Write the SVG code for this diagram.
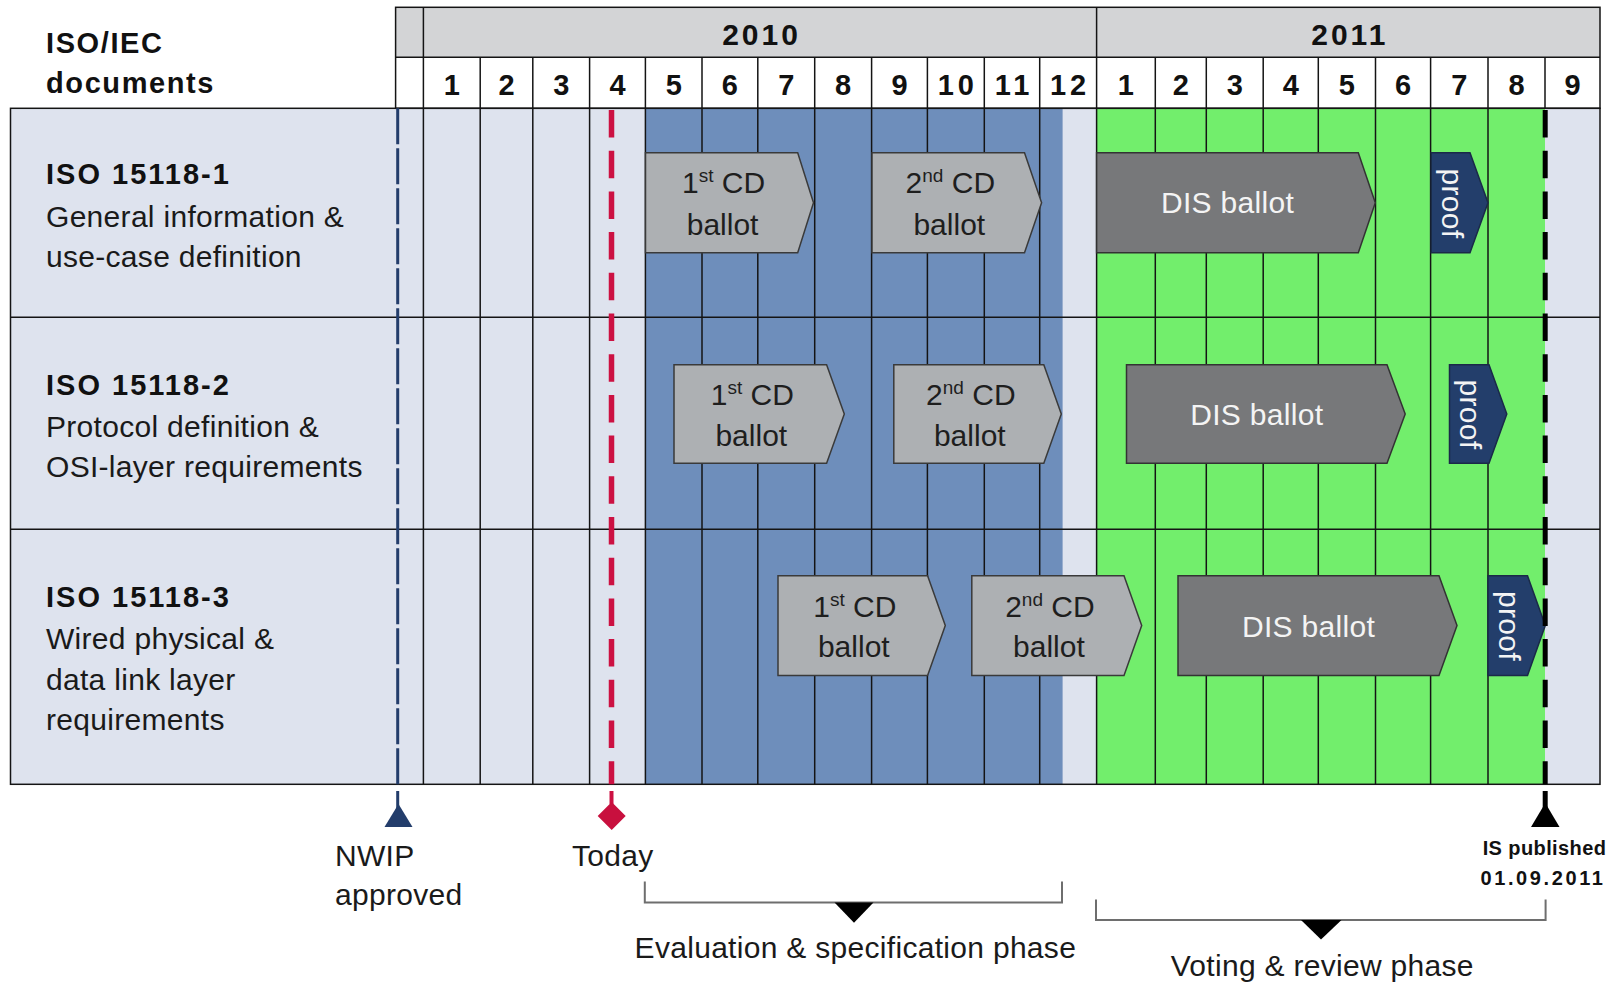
<svg xmlns="http://www.w3.org/2000/svg" width="1620" height="983" viewBox="0 0 1620 983">
<style>
.bg{fill:#dee3ee}
.blue{fill:#6e8ebb}
.green{fill:#72ee6c}
.hdr{fill:#d3d4d6}
.grid{stroke:#141414;stroke-width:1.5;fill:none}
.b{font-family:"Liberation Sans",Arial,sans-serif;font-weight:bold;fill:#111}
.r{font-family:"Liberation Sans",Arial,sans-serif;font-size:30px;fill:#1a1a1a;letter-spacing:0.3px}
.yr{font-size:30px;letter-spacing:3px;text-anchor:middle}
.mo{font-size:29px;letter-spacing:4px;text-anchor:middle}
.doc{font-size:29px;letter-spacing:1.6px}
.cd{fill:#adb0b3;stroke:#3a3a3a;stroke-width:1.5}
.dis{fill:#77787a;stroke:#333;stroke-width:1.5}
.proof{fill:#233e6b;stroke:#1a2a48;stroke-width:1.5}
.ct{font-family:"Liberation Sans",Arial,sans-serif;font-size:30px;fill:#1e1e1e;text-anchor:middle}
.wt{font-family:"Liberation Sans",Arial,sans-serif;font-size:30px;fill:#f4f4f4;text-anchor:middle;letter-spacing:0.3px}
.sup{font-size:19px}
.brk{stroke:#6e6e6e;stroke-width:2;fill:none}
</style>

<g id="table">
  <rect class="bg" x="10.5" y="108.3" width="1589.5" height="676"/>
  <rect class="blue" x="645.4" y="108.3" width="417.2" height="676"/>
  <rect class="green" x="1096.6" y="108.3" width="448.4" height="676"/>
  <rect class="hdr" x="395.6" y="7.3" width="1204.4" height="50"/>
  <rect fill="#ffffff" x="395.6" y="57.3" width="1204.4" height="51"/>
  <g class="grid">
    <rect x="395.6" y="7.3" width="1204.4" height="101"/>
    <line x1="395.6" y1="57.3" x2="1600" y2="57.3"/>
    <line x1="423.4" y1="7.3" x2="423.4" y2="108.3"/>
    <line x1="1096.6" y1="7.3" x2="1096.6" y2="57.3"/>
    <path d="M480.2 57.3V784.3M532.8 57.3V784.3M589.6 57.3V784.3M645.4 57.3V784.3M702 57.3V784.3M757.8 57.3V784.3M814.7 57.3V784.3M871.6 57.3V784.3M927.4 57.3V784.3M984.3 57.3V784.3M1039.7 57.3V784.3M1096.6 57.3V784.3M1155.3 57.3V784.3M1206.3 57.3V784.3M1263.2 57.3V784.3M1318.3 57.3V784.3M1375.5 57.3V784.3M1430.6 57.3V784.3M1488 57.3V784.3M1545 57.3V108.3M423.4 108.3V784.3"/>
    <rect x="10.5" y="108.3" width="1589.5" height="676"/>
    <line x1="10.5" y1="317.3" x2="1600" y2="317.3"/>
    <line x1="10.5" y1="529.3" x2="1600" y2="529.3"/>
  </g>
  <text class="b yr" x="761.5" y="45">2010</text>
  <text class="b yr" x="1349.8" y="45">2011</text>
  <g class="b mo">
    <text x="453.8" y="95">1</text>
    <text x="508.5" y="95">2</text>
    <text x="563.2" y="95">3</text>
    <text x="619.5" y="95">4</text>
    <text x="675.7" y="95">5</text>
    <text x="731.9" y="95">6</text>
    <text x="788.2" y="95">7</text>
    <text x="845.1" y="95">8</text>
    <text x="901.5" y="95">9</text>
    <text x="957.8" y="95">10</text>
    <text x="1014" y="95">11</text>
    <text x="1070.1" y="95">12</text>
    <text x="1127.9" y="95">1</text>
    <text x="1182.8" y="95">2</text>
    <text x="1236.7" y="95">3</text>
    <text x="1292.7" y="95">4</text>
    <text x="1348.9" y="95">5</text>
    <text x="1405" y="95">6</text>
    <text x="1461.3" y="95">7</text>
    <text x="1518.5" y="95">8</text>
    <text x="1574.5" y="95">9</text>
  </g>
  <text class="b doc" x="46" y="53">ISO/IEC</text>
  <text class="b doc" x="46" y="93">documents</text>
</g>

<g id="doc1">
  <text class="b doc" x="46" y="184" style="letter-spacing:2px">ISO 15118-1</text>
  <text class="r" x="46" y="226.5">General information &amp;</text>
  <text class="r" x="46" y="266.5">use-case definition</text>
</g>
<g id="doc2">
  <text class="b doc" x="46" y="395" style="letter-spacing:2px">ISO 15118-2</text>
  <text class="r" x="46" y="436.5">Protocol definition &amp;</text>
  <text class="r" x="46" y="476.5">OSI-layer requirements</text>
</g>
<g id="doc3">
  <text class="b doc" x="46" y="607" style="letter-spacing:2px">ISO 15118-3</text>
  <text class="r" x="46" y="648.5">Wired physical &amp;</text>
  <text class="r" x="46" y="689.5">data link layer</text>
  <text class="r" x="46" y="730">requirements</text>
</g>

<g id="r1-cd1">
  <polygon class="cd" points="645.5,152.7 797.7,152.7 813.5,202.7 797.7,252.7 645.5,252.7"/>
  <text class="ct" x="723.6" y="192.7">1<tspan class="sup" dy="-11">st</tspan><tspan dy="11"> CD</tspan></text>
  <text class="ct" x="722.6" y="235">ballot</text>
</g>
<g id="r1-cd2">
  <polygon class="cd" points="872,152.7 1024.5,152.7 1041.6,202.7 1024.5,252.7 872,252.7"/>
  <text class="ct" x="950.3" y="192.7">2<tspan class="sup" dy="-11">nd</tspan><tspan dy="11"> CD</tspan></text>
  <text class="ct" x="949.3" y="235">ballot</text>
</g>
<g id="r1-dis">
  <polygon class="dis" points="1096.6,152.7 1358.3,152.7 1375.3,202.7 1358.3,252.7 1096.6,252.7"/>
  <text class="wt" x="1227.5" y="213.3">DIS ballot</text>
</g>
<g id="r1-proof">
  <polygon class="proof" points="1431.2,152.7 1470,152.7 1488,202.7 1470,252.7 1431.2,252.7"/>
  <text class="wt" transform="translate(1442,203.5) rotate(90)">proof</text>
</g>

<g id="r2-cd1">
  <polygon class="cd" points="674,364.8 826.6,364.8 844.3,414 826.6,463.2 674,463.2"/>
  <text class="ct" x="752.3" y="405">1<tspan class="sup" dy="-11">st</tspan><tspan dy="11"> CD</tspan></text>
  <text class="ct" x="751.3" y="445.5">ballot</text>
</g>
<g id="r2-cd2">
  <polygon class="cd" points="893.8,364.8 1043.8,364.8 1061.3,414 1043.8,463.2 893.8,463.2"/>
  <text class="ct" x="970.8" y="405">2<tspan class="sup" dy="-11">nd</tspan><tspan dy="11"> CD</tspan></text>
  <text class="ct" x="969.8" y="445.5">ballot</text>
</g>
<g id="r2-dis">
  <polygon class="dis" points="1126.5,364.8 1387,364.8 1405.2,414 1387,463.2 1126.5,463.2"/>
  <text class="wt" x="1256.8" y="425">DIS ballot</text>
</g>
<g id="r2-proof">
  <polygon class="proof" points="1449.5,364.8 1489,364.8 1506.8,414 1489,463.2 1449.5,463.2"/>
  <text class="wt" transform="translate(1460.3,414.5) rotate(90)">proof</text>
</g>

<g id="r3-cd1">
  <polygon class="cd" points="778,575.8 927.6,575.8 945.3,625.6 927.6,675.5 778,675.5"/>
  <text class="ct" x="854.8" y="616.5">1<tspan class="sup" dy="-11">st</tspan><tspan dy="11"> CD</tspan></text>
  <text class="ct" x="853.8" y="657">ballot</text>
</g>
<g id="r3-cd2">
  <polygon class="cd" points="971.8,575.8 1124,575.8 1141.7,625.6 1124,675.5 971.8,675.5"/>
  <text class="ct" x="1049.9" y="616.5">2<tspan class="sup" dy="-11">nd</tspan><tspan dy="11"> CD</tspan></text>
  <text class="ct" x="1048.9" y="657">ballot</text>
</g>
<g id="r3-dis">
  <polygon class="dis" points="1178,575.8 1439,575.8 1457,625.6 1439,675.5 1178,675.5"/>
  <text class="wt" x="1308.5" y="636.5">DIS ballot</text>
</g>
<g id="r3-proof">
  <polygon class="proof" points="1488,575.8 1527.5,575.8 1545.3,625.6 1527.5,675.5 1488,675.5"/>
  <text class="wt" transform="translate(1498.8,626) rotate(90)">proof</text>
</g>

<g id="connectors">
  <line x1="397.7" y1="108.3" x2="397.7" y2="784.3" stroke="#233d6b" stroke-width="3" stroke-dasharray="36 4"/>
  <line x1="611.5" y1="110" x2="611.5" y2="784.3" stroke="#cc1142" stroke-width="5.5" stroke-dasharray="27.5 13.2"/>
  <line x1="1545.2" y1="110" x2="1545.2" y2="784.3" stroke="#000" stroke-width="5" stroke-dasharray="27.5 13.2"/>
</g>
<g id="nwip">
  <line x1="397.7" y1="791" x2="397.7" y2="808" stroke="#233d6b" stroke-width="3"/>
  <polygon points="398.5,804 412.5,827 384.5,827" fill="#233d6b"/>
  <text class="r" x="335" y="866">NWIP</text>
  <text class="r" x="335" y="905">approved</text>
</g>
<g id="today">
  <line x1="611.5" y1="791" x2="611.5" y2="804" stroke="#cc1142" stroke-width="4"/>
  <polygon points="611.7,802 625.7,816 611.7,830 597.7,816" fill="#c8103e"/>
  <text class="r" x="572" y="866">Today</text>
</g>
<g id="is-published">
  <line x1="1545.2" y1="791" x2="1545.2" y2="808" stroke="#000" stroke-width="5"/>
  <polygon points="1545.3,803 1559.5,827 1531,827" fill="#000"/>
  <text class="b" x="1544.5" y="855" font-size="20" text-anchor="middle" style="letter-spacing:0.4px">IS published</text>
  <text class="b" x="1543" y="885" font-size="20" text-anchor="middle" style="letter-spacing:2.6px">01.09.2011</text>
</g>
<g id="eval-phase">
  <path class="brk" d="M644.8 881.5V902.5H1062V881.5"/>
  <polygon points="834.5,902.5 873.5,902.5 854,922.8" fill="#000"/>
  <text class="r" x="634.6" y="958">Evaluation &amp; specification phase</text>
</g>
<g id="voting-phase">
  <path class="brk" d="M1096 899.5V920H1545.6V899.5"/>
  <polygon points="1301,920 1341.5,920 1321,939.5" fill="#000"/>
  <text class="r" x="1170.7" y="976">Voting &amp; review phase</text>
</g>
</svg>
